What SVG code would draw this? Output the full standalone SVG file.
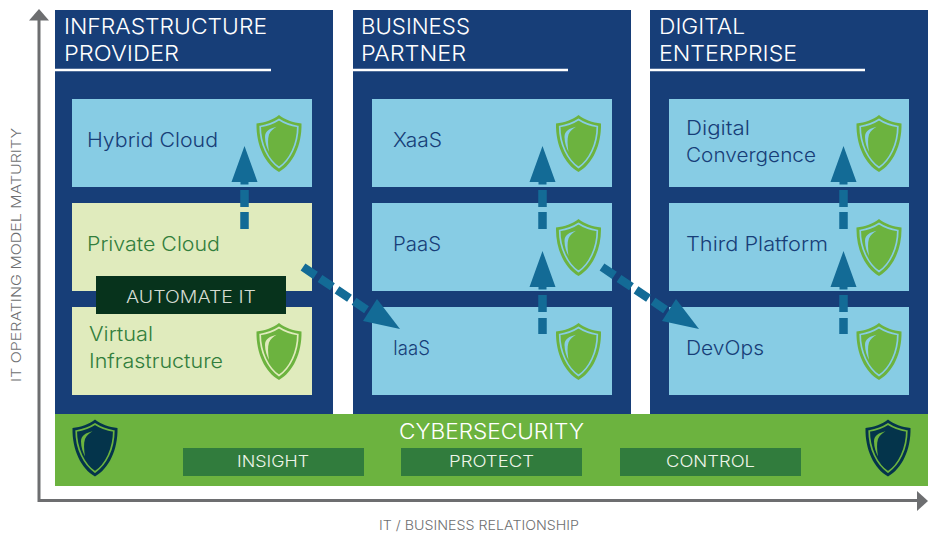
<svg xmlns="http://www.w3.org/2000/svg" width="932" height="536" viewBox="0 0 932 536">
<style>
text{font-family:Inter,"Liberation Sans",sans-serif;font-weight:300}
.panel{fill:#173e78}
.title{fill:#fff;font-size:22px}
.rule{stroke:#fff;stroke-width:2.5;fill:none}
.blue{fill:#87cce4}
.lime{fill:#e0ebbd}
.bt{fill:#173e78;font-size:19.5px}
.gt{fill:#327e3c;font-size:19.5px}
.tag{fill:#317c3d}
.tagt{fill:#eef5e8;font-size:16.5px}
.axis{stroke:#6d6e70;stroke-width:3;fill:none}
.axt{fill:#6d6e70;font-size:13px}
.arrow{fill:#136b96}
.dash{stroke:#136b96;stroke-width:8.500;fill:none}
</style>
<defs>
<g id="shield">
<path stroke="none" d="M0,0C6,5 14,7.500 22.500,8.500C23,30 14,49 0,57C-14,49 -23,30 -22.500,8.500C-14,7.500 -6,5 0,0Z"/>
<path fill="none" stroke-width="1.700" d="M0,4.500C6,8.500 12.500,10.500 18.800,11.500C18.800,29 11,45 0,52.500C-11,45 -18.800,29 -18.800,11.500C-12.500,10.500 -6,8.500 0,4.500Z"/>
<path stroke="none" fill="currentColor" d="M-2.500,11.700C-9,13.500 -14,15.500 -14,22C-14,28 -12,33 -10,37C-11,30 -11.500,24 -10,19.500C-8.500,16 -5.500,13.500 -2.500,11.700Z"/>
</g>
<g id="upArrow">
<path class="arrow" d="M0,0L13,36H4V38.500H-4V36H-13Z"/>
</g>
</defs>

<g id="axes">
<path class="axis" d="M39,19V500.500H918"/>
<path fill="#6d6e70" d="M39,9L49,20.500H29Z"/>
<path fill="#6d6e70" d="M928,501L917,491V511Z"/>
<text class="axt" x="379" y="530" textLength="200" lengthAdjust="spacingAndGlyphs">IT / BUSINESS RELATIONSHIP</text>
<text class="axt" transform="translate(21,382) rotate(-90)" textLength="254" lengthAdjust="spacingAndGlyphs">IT OPERATING MODEL MATURITY</text>
</g>

<g id="panel-infrastructure">
<rect class="panel" x="55" y="10" width="278" height="404"/>
<text class="title" x="64" y="34" textLength="203" lengthAdjust="spacingAndGlyphs">INFRASTRUCTURE</text>
<text class="title" x="64" y="61" textLength="115" lengthAdjust="spacingAndGlyphs">PROVIDER</text>
<path class="rule" d="M55,70H271"/>
</g>
<g id="panel-business">
<rect class="panel" x="353" y="10" width="278" height="404"/>
<text class="title" x="361" y="34" textLength="109" lengthAdjust="spacingAndGlyphs">BUSINESS</text>
<text class="title" x="361" y="61" textLength="105" lengthAdjust="spacingAndGlyphs">PARTNER</text>
<path class="rule" d="M353,70H568"/>
</g>
<g id="panel-digital">
<rect class="panel" x="650" y="10" width="278" height="404"/>
<text class="title" x="659" y="34" textLength="86" lengthAdjust="spacingAndGlyphs">DIGITAL</text>
<text class="title" x="659" y="61" textLength="138" lengthAdjust="spacingAndGlyphs">ENTERPRISE</text>
<path class="rule" d="M650,70H865"/>
</g>

<g id="node-hybrid-cloud">
<rect class="blue" x="72" y="99" width="240" height="88"/>
<text class="bt" x="87" y="147" textLength="131" lengthAdjust="spacingAndGlyphs">Hybrid Cloud</text>
<use href="#shield" x="279" y="115" fill="#6cb33f" stroke="#87cce4" color="#87cce4"/>
</g>
<g id="node-private-cloud">
<rect class="lime" x="72" y="203" width="240" height="88"/>
<text class="gt" x="87" y="251" textLength="133" lengthAdjust="spacingAndGlyphs">Private Cloud</text>
</g>
<g id="node-virtual-infrastructure">
<rect class="lime" x="72" y="307" width="240" height="88"/>
<text class="gt" x="89" y="341" textLength="64" lengthAdjust="spacingAndGlyphs">Virtual</text>
<text class="gt" x="89" y="368" textLength="134" lengthAdjust="spacingAndGlyphs">Infrastructure</text>
<use href="#shield" x="279" y="323" fill="#6cb33f" stroke="#e0ebbd" color="#e0ebbd"/>
</g>
<g id="node-automate-it">
<rect x="96" y="276" width="190" height="38" fill="#07331c"/>
<text x="126" y="303" fill="#d5dcd2" font-size="17" textLength="130" lengthAdjust="spacingAndGlyphs">AUTOMATE IT</text>
</g>

<g id="node-xaas">
<rect class="blue" x="372" y="99" width="240" height="88"/>
<text class="bt" x="393" y="147" textLength="49" lengthAdjust="spacingAndGlyphs">XaaS</text>
<use href="#shield" x="578.500" y="115" fill="#6cb33f" stroke="#87cce4" color="#87cce4"/>
</g>
<g id="node-paas">
<rect class="blue" x="372" y="203" width="240" height="88"/>
<text class="bt" x="393" y="251" textLength="48" lengthAdjust="spacingAndGlyphs">PaaS</text>
<use href="#shield" x="578.500" y="219" fill="#6cb33f" stroke="#87cce4" color="#87cce4"/>
</g>
<g id="node-iaas">
<rect class="blue" x="372" y="307" width="240" height="88"/>
<text class="bt" x="393" y="355" textLength="37" lengthAdjust="spacingAndGlyphs">IaaS</text>
<use href="#shield" x="578.500" y="323" fill="#6cb33f" stroke="#87cce4" color="#87cce4"/>
</g>

<g id="node-digital-convergence">
<rect class="blue" x="669" y="99" width="240" height="88"/>
<text class="bt" x="686" y="135" textLength="64" lengthAdjust="spacingAndGlyphs">Digital</text>
<text class="bt" x="686" y="162" textLength="130" lengthAdjust="spacingAndGlyphs">Convergence</text>
<use href="#shield" x="879" y="115" fill="#6cb33f" stroke="#87cce4" color="#87cce4"/>
</g>
<g id="node-third-platform">
<rect class="blue" x="669" y="203" width="240" height="88"/>
<text class="bt" x="686" y="251" textLength="142" lengthAdjust="spacingAndGlyphs">Third Platform</text>
<use href="#shield" x="879" y="219" fill="#6cb33f" stroke="#87cce4" color="#87cce4"/>
</g>
<g id="node-devops">
<rect class="blue" x="669" y="307" width="240" height="88"/>
<text class="bt" x="686" y="355" textLength="78" lengthAdjust="spacingAndGlyphs">DevOps</text>
<use href="#shield" x="879" y="323" fill="#6cb33f" stroke="#87cce4" color="#87cce4"/>
</g>

<g id="node-cybersecurity">
<rect x="55" y="414" width="873" height="72" fill="#6cb33f"/>
<text x="399" y="439" fill="#fff" font-size="21" textLength="185" lengthAdjust="spacingAndGlyphs">CYBERSECURITY</text>
<use href="#shield" x="95" y="419.500" fill="#04344b" stroke="#6cb33f" color="#6cb33f"/>
<use href="#shield" x="888" y="419.500" fill="#04344b" stroke="#6cb33f" color="#6cb33f"/>
</g>
<g id="node-insight"><rect class="tag" x="183" y="448" width="181" height="28"/><text class="tagt" x="237" y="467" textLength="72" lengthAdjust="spacingAndGlyphs">INSIGHT</text></g>
<g id="node-protect"><rect class="tag" x="401" y="448" width="181" height="28"/><text class="tagt" x="449" y="467" textLength="85" lengthAdjust="spacingAndGlyphs">PROTECT</text></g>
<g id="node-control"><rect class="tag" x="620" y="448" width="181" height="28"/><text class="tagt" x="666" y="467" textLength="89" lengthAdjust="spacingAndGlyphs">CONTROL</text></g>

<g id="connectors">
<use href="#upArrow" x="244.500" y="146"/><path class="dash" d="M244.500,190V207M244.500,212V229"/>
<use href="#upArrow" x="542.500" y="146"/><path class="dash" d="M542.500,190V207M542.500,212V229"/>
<use href="#upArrow" x="843.500" y="146"/><path class="dash" d="M843.500,190V207M843.500,212V229"/>
<use href="#upArrow" x="542.500" y="251"/><path class="dash" d="M542.500,295V312M542.500,318V334"/>
<use href="#upArrow" x="843.500" y="251"/><path class="dash" d="M843.500,295V312M843.500,318V334"/>
<path class="dash" d="M303,267L367,310" stroke-dasharray="15 5.500"/>
<path class="arrow" d="M377,299L400,329L363,321Z"/>
<path class="dash" d="M602,267L666,310" stroke-dasharray="15 5.500"/>
<path class="arrow" d="M676,299L699,329L662,321Z"/>
</g>
</svg>
